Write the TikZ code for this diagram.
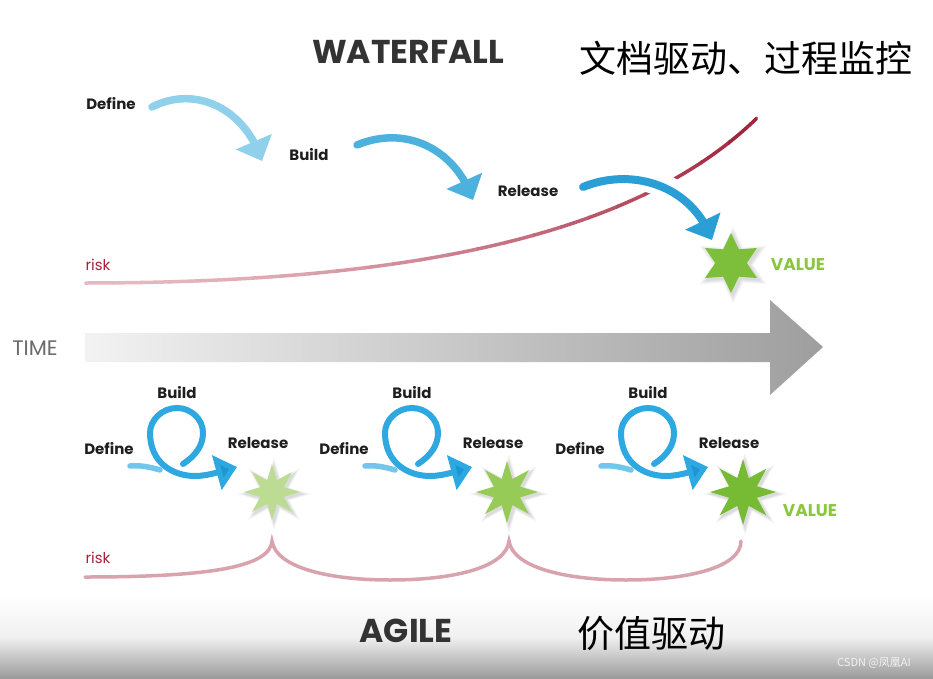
\documentclass[tikz,border=0pt]{standalone}
\usepackage{fontspec}
\setmainfont{Poppins}
\newfontfamily\cjk{Noto Sans CJK SC}
\usetikzlibrary{arrows.meta,bending,shapes.geometric}
\definecolor{ink}{HTML}{1E1E1E}
\definecolor{titleink}{HTML}{333333}
\definecolor{timegray}{HTML}{6B6B6B}
\definecolor{riskdark}{HTML}{A3243C}
\definecolor{risklight}{HTML}{E6B9C1}
\definecolor{riskpink}{HTML}{D9A3AD}
\definecolor{blueA}{HTML}{8FD0EA}
\definecolor{blueB}{HTML}{4DB1DE}
\definecolor{blueC}{HTML}{2A9FD6}
\definecolor{loopblue}{HTML}{2EA8E0}
\definecolor{dashblue}{HTML}{72C6EB}
\definecolor{tipblue}{HTML}{1B97D4}
\definecolor{valgreen}{HTML}{8CC63F}
\definecolor{starTop}{HTML}{7DBF3B}
\definecolor{starA}{HTML}{BCDC94}
\definecolor{starB}{HTML}{97CB58}
\definecolor{starC}{HTML}{76BB33}
\tikzset{
  lbl/.style={font=\fontsize{15}{17}\selectfont\bfseries, text=ink, inner sep=0pt},
  risklbl/.style={font=\fontsize{15}{17}\selectfont, text=riskdark, inner sep=0pt},
  vallbl/.style={font=\fontsize{17}{19}\selectfont\bfseries, text=valgreen, inner sep=0pt},
  bigtitle/.style={font=\fontsize{33}{36}\selectfont\bfseries, text=titleink, inner sep=0pt},
  cjktitle/.style={font=\cjk\fontsize{37}{40}\selectfont, text=black, inner sep=0pt},
  wfarrow/.style={line width=7.5pt, line cap=round, -{Triangle[length=21pt,width=38pt,flex]}},
  loopline/.style={line width=6pt, line cap=round, draw=loopblue},
  stargen/.style={star, star points=8, star point ratio=2.2, inner sep=0pt, draw=none},
}
\begin{document}
\begin{tikzpicture}[x=1pt,y=-1pt]
\useasboundingbox (0,0) rectangle (933,679);
\fill[white] (0,0) rectangle (933,679);
% bottom gray band
\shade[top color=white, bottom color=black!40, middle color=black!6] (0,596) rectangle (933,679);

% titles
\node[bigtitle] (wf) at (408,52) {WATERFALL};
\node[cjktitle] (cn1) at (746,58) {文档驱动、过程监控};
\node[bigtitle] (ag) at (406,631) {AGILE};
\node[cjktitle] (cn2) at (651,634) {价值驱动};
\node[font=\cjk\fontsize{11}{13}\selectfont, text=black!5, inner sep=0pt] (wm) at (874,663) {CSDN @凤凰AI};

% waterfall labels
\node[lbl] (d0) at (111,104) {Define};
\node[lbl] (b0) at (309,155) {Build};
\node[lbl] (r0) at (528,191) {Release};
\node[risklbl] (rk0) at (98,265) {risk};
\node[vallbl] (val0) at (798,265) {VALUE};

% top risk line with stepwise gradient
\foreach \i in {0,...,23} {
  \pgfmathsetmacro\xa{85+\i*28-0.6}
  \pgfmathsetmacro\xb{85+(\i+1)*28+0.6}
  \pgfmathtruncatemacro\p{100*(\i/23)^1.6}
  \colorlet{segc}{riskdark!\p!risklight}
  \begin{scope}
    \clip (\xa,0) rectangle (\xb,679);
    \draw[line width=3.5pt, line cap=round, draw=segc] (85,283) .. controls (450,283) and (650,222) .. (757,118);
  \end{scope}
}

% waterfall arrows
\draw[wfarrow, draw=blueA] (152,107) .. controls (195,85) and (245,108) .. (262,161);
\draw[wfarrow, draw=blueB] (357,145) .. controls (405,125) and (455,148) .. (473,200);
\draw[white, line width=24pt] (600,182) .. controls (640,170) and (675,185) .. (695,212);
\draw[wfarrow, line width=8pt, draw=blueC] (583,187) .. controls (632,167) and (692,185) .. (712,240);

% top star with glow
\foreach \k in {1,...,6} {
  \node[star, star points=6, star point ratio=1.9, inner sep=0pt, minimum size={60pt+3*\k pt}, fill=black, opacity=0.025] (g0\k) at (733,265) {};
}
\node[star, star points=6, star point ratio=1.9, inner sep=0pt, minimum size=60pt, fill=starTop] (v0) at (731,263) {};

% TIME arrow
\shade[left color=black!5, right color=black!38]
  (85,333) -- (770,333) -- (770,300) -- (823,347) -- (770,395) -- (770,362) -- (85,362) -- cycle;
\node[font=\fontsize{21}{23}\selectfont, text=timegray, inner sep=0pt] (time) at (35,348) {TIME};

% agile groups
\foreach \dx/\n/\sc/\r in {0/1/starA/28, 235/2/starB/31, 471/3/starC/33} {
  \begin{scope}[xshift=\dx]
    \node[lbl] (ad\n) at (109,449) {Define};
    \node[lbl] (ab\n) at (177,393) {Build};
    \node[lbl] (ar\n) at (258,443) {Release};
    \draw[line width=5.5pt, line cap=round, draw=dashblue] (130,466) .. controls (140,465) and (150,467) .. (160,470);
    \draw[loopline, -{Triangle[length=21pt,width=35pt,flex,fill=tipblue]}]
      (183,464) .. controls (195,456) and (203,446) .. (203,433)
      .. controls (203,419) and (191,408) .. (177,408)
      .. controls (162,408) and (150,420) .. (150,433)
      .. controls (150,462) and (172,476) .. (195,476)
      .. controls (210,476) and (224,470) .. (237,467);
    \foreach \k in {1,...,6} {
      \node[stargen, minimum size={2*\r pt+3*\k pt}, fill=black, opacity=0.022] (gs\n\k) at (274,494) {};
    }
    \node[stargen, minimum size={2*\r pt}, fill=\sc] (s\n) at (272,492) {};
  \end{scope}
}
\node[vallbl] (val1) at (810,511) {VALUE};

% bottom risk line
\node[risklbl] (rk1) at (98,558) {risk};
\draw[line width=3.5pt, line cap=round, draw=riskpink]
  (85,577) .. controls (215,577) and (270,566) .. (272,541)
  .. controls (276,568) and (330,580) .. (390,580)
  .. controls (452,580) and (506,568) .. (509,541)
  .. controls (513,568) and (567,580) .. (626,580)
  .. controls (686,580) and (741,568) .. (741,541);
\end{tikzpicture}
\end{document}
